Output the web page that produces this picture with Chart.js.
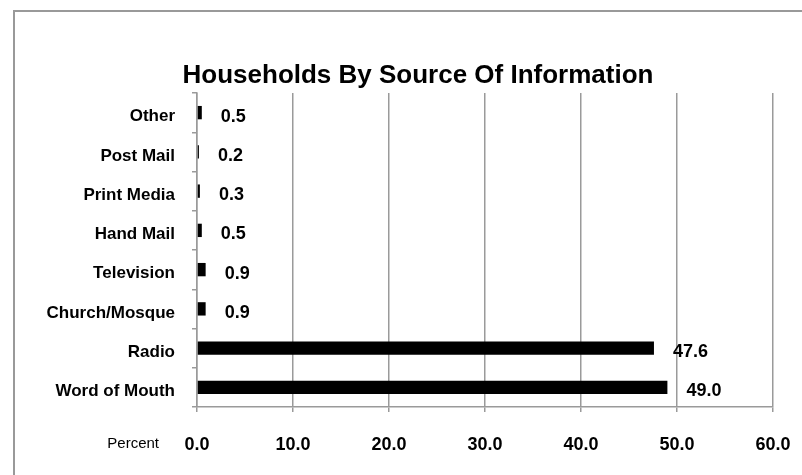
<!DOCTYPE html>
<html>
<head>
<meta charset="utf-8">
<title>Households By Source Of Information</title>
<script src="https://cdn.jsdelivr.net/npm/chart.js@4"></script>
<style>
  html, body { margin: 0; padding: 0; background: #fff; }
  #wrap { position: relative; width: 802px; height: 475px; }
</style>
</head>
<body>
<div id="wrap"><canvas id="sourceChart"></canvas></div>
<script>
// Survey results
const sources = ['Other', 'Post Mail', 'Print Media', 'Hand Mail', 'Television', 'Church/Mosque', 'Radio', 'Word of Mouth'];
const percents = [0.5, 0.2, 0.3, 0.5, 0.9, 0.9, 47.6, 49.0];
const xTicks = [0, 10, 20, 30, 40, 50, 60];
const chartTitle = 'Households By Source Of Information';

const fontFamily = "'Liberation Sans', Arial, Helvetica, sans-serif";
const gridGray = '#9a9a9a';

// Outer frame, title, value labels and the "Percent" caption
const decorations = {
    id: 'decorations',
    beforeDraw(chart) {
        const ctx = chart.ctx;
        ctx.save();
        ctx.fillStyle = '#fff';
        ctx.fillRect(0, 0, chart.width, chart.height);
        ctx.strokeStyle = '#999';
        ctx.lineWidth = 2;
        ctx.beginPath();
        ctx.moveTo(14, chart.height);
        ctx.lineTo(14, 11);
        ctx.lineTo(chart.width, 11);
        ctx.stroke();
        ctx.restore();
    },
    afterDraw(chart) {
        const ctx = chart.ctx;
        const meta = chart.getDatasetMeta(0);
        ctx.save();
        ctx.fillStyle = '#000';

        // title, centred a little right of the canvas middle
        ctx.font = 'bold 26px ' + fontFamily;
        ctx.textAlign = 'center';
        ctx.textBaseline = 'middle';
        ctx.fillText(chartTitle, 418, 76);

        ctx.font = 'bold 18px ' + fontFamily;
        ctx.textAlign = 'left';
        meta.data.forEach(function(bar, i) {
            ctx.fillText(percents[i].toFixed(1), bar.x + 19, bar.y + 4);
        });

        const xScale = chart.scales.x;
        ctx.font = '15px ' + fontFamily;
        ctx.textAlign = 'right';
        ctx.fillText('Percent', xScale.left - 38, xScale.top + 37);
        ctx.restore();
    }
};

const ctx = document.getElementById('sourceChart').getContext('2d');
const sourceChart = new Chart(ctx, {
    type: 'bar',
    data: {
        labels: sources,
        datasets: [{
            data: percents,
            backgroundColor: '#000',
            borderWidth: 0,
            barPercentage: 0.34,
            categoryPercentage: 1.0
        }]
    },
    options: {
        indexAxis: 'y',
        responsive: true,
        maintainAspectRatio: false,
        animation: false,
        layout: {
            padding: { left: 0, right: 29, top: 93, bottom: 0 }
        },
        plugins: {
            legend: { display: false },
            tooltip: { enabled: false },
            title: { display: false }
        },
        scales: {
            x: {
                min: 0,
                max: 60,
                afterBuildTicks: function(scale) {
                    scale.ticks = xTicks.map(function(v) { return { value: v }; });
                },
                afterFit: function(scale) {
                    scale.height = 68;
                    scale.paddingLeft = 0;
                    scale.paddingRight = 0;
                },
                grid: {
                    color: gridGray,
                    lineWidth: 1.5,
                    drawTicks: true,
                    tickLength: 5
                },
                border: { color: gridGray, width: 1.5 },
                ticks: {
                    color: '#000',
                    padding: 22,
                    maxRotation: 0,
                    font: { family: fontFamily, size: 18, weight: 'bold' },
                    callback: function(value) {
                        return Number(value).toFixed(1);
                    }
                }
            },
            y: {
                afterFit: function(scale) {
                    scale.width = 197;
                    scale.paddingTop = 0;
                    scale.paddingBottom = 0;
                },
                grid: {
                    offset: true,
                    drawOnChartArea: false,
                    drawTicks: true,
                    tickLength: 5,
                    color: gridGray,
                    lineWidth: 1.5
                },
                border: { color: gridGray, width: 1.5 },
                ticks: {
                    color: '#000',
                    padding: 17,
                    labelOffset: 4,
                    font: { family: fontFamily, size: 17, weight: 'bold' }
                }
            }
        }
    },
    plugins: [decorations]
});
</script>
</body>
</html>
